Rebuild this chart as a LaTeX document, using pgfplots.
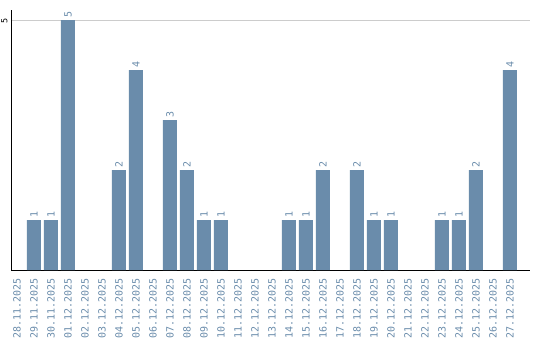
\documentclass[border=0pt]{standalone}
\usepackage{pgfplots}
\pgfplotsset{compat=1.18}
\usepackage{fontspec}
\setmainfont{DejaVu Sans}
\newfontfamily\monofont{DejaVu Sans Mono}
\definecolor{barc}{RGB}{106,140,171}
\definecolor{gridc}{RGB}{204,204,204}
\begin{document}
\begin{tikzpicture}[x=1bp,y=1bp]
\begin{axis}[
  at={(0,0)}, anchor=south west,
  scale only axis,
  width=519bp, height=260bp,
  xmin=-0.353, xmax=30.18,
  ymin=0, ymax=5.2,
  /pgf/number format/assume math mode=true,
  axis x line*=bottom, axis y line*=left,
  axis line style={black, line width=1pt, -},
  ytick={5},
  ymajorgrids, grid style={gridc, line width=0.8pt},
  major tick length=0pt,
  yticklabel style={rotate=90, anchor=south, font=\monofont\fontsize{8.5}{8.5}\selectfont, text=black, xshift=-1bp},
  xtick={0,...,29},
  xticklabels={28.11.2025,29.11.2025,30.11.2025,01.12.2025,02.12.2025,03.12.2025,04.12.2025,05.12.2025,06.12.2025,07.12.2025,08.12.2025,09.12.2025,10.12.2025,11.12.2025,12.12.2025,13.12.2025,14.12.2025,15.12.2025,16.12.2025,17.12.2025,18.12.2025,19.12.2025,20.12.2025,21.12.2025,22.12.2025,23.12.2025,24.12.2025,25.12.2025,26.12.2025,27.12.2025},
  xticklabel style={rotate=90, anchor=east, font=\monofont\fontsize{10}{10}\selectfont, text=barc, yshift=0bp, xshift=-5bp},
  ybar, bar width=14bp, bar shift=0pt,
  nodes near coords,
  every node near coord/.append style={rotate=90, anchor=west, font=\monofont\fontsize{10}{10}\selectfont, text=barc, xshift=-1bp},
  clip=false,
]
\addplot[fill=barc, draw=none] coordinates {
(1,1) (2,1) (3,5) (6,2) (7,4) (9,3) (10,2) (11,1) (12,1)
(16,1) (17,1) (18,2) (20,2) (21,1) (22,1) (25,1) (26,1) (27,2) (29,4)
};
\end{axis}
\pgfresetboundingbox
\path[use as bounding box] (-11bp,-70bp) rectangle (529bp,270bp);
\end{tikzpicture}
\end{document}
